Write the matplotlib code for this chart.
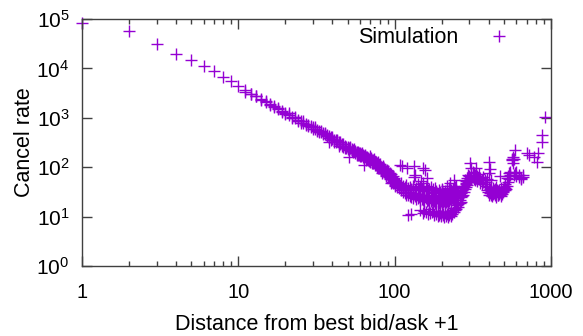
import matplotlib
matplotlib.use("Agg")
import matplotlib.pyplot as plt
from matplotlib.ticker import LogLocator, NullFormatter, LogFormatterSciNotation, FixedLocator, FixedFormatter

plt.rcParams['font.family'] = ['Liberation Sans', 'DejaVu Sans']
plt.rcParams['mathtext.default'] = 'regular'

# ---- data ----
# distances 1..100, main curve
near_dist = list(range(1, 101))
near_rate = [83000, 56000, 31000, 20000, 15000, 11000, 8700, 6800, 5600, 4400,
             3400, 3050, 2700, 2400, 2100, 1900, 1700, 1500, 1350, 1250,
             1150, 1060, 980, 910, 850, 800, 760, 720, 680, 640,
             600, 570, 540, 510, 490, 460, 440, 420, 400, 380,
             360, 350, 335, 320, 300, 290, 290, 270, 260, 255,
             245, 240, 230, 225, 215, 210, 205, 200, 195, 190,
             185, 180, 178, 170, 165, 162, 160, 155, 150, 148,
             145, 140, 138, 132, 128, 125, 120, 118, 112, 108,
             104, 100, 98, 96, 92, 88, 85, 82, 80, 78,
             76, 72, 70, 66, 64, 60, 58, 56, 54, 52]

# second set of points for distances 11..100
twin_dist = list(range(11, 101))
twin_rate = [3600, 3100, 2800, 2300, 2150, 1800, 1650, 1550, 1300, 1200,
             1250, 1000, 1050, 860, 800, 850, 700, 690, 640, 600,
             640, 540, 510, 550, 460, 500, 420, 390, 360, 400,
             330, 320, 360, 290, 320, 270, 260, 250, 240, 230,
             225, 260, 210, 205, 235, 190, 185, 180, 178, 170,
             168, 195, 158, 152, 180, 142, 150, 138, 132, 165,
             155, 122, 120, 145, 112, 110, 102, 128, 98, 95,
             115, 90, 86, 104, 80, 94, 75, 70, 88, 66,
             84, 62, 78, 57, 72, 50, 66, 47, 60, 44]

# scattered points above / below the main curve
out_dist = [38, 44, 51, 57, 64, 70, 78, 83, 88, 95, 108, 111, 120, 132, 132, 135, 147,
            152, 156, 160, 200, 215, 226, 240]
out_rate = [330, 270, 160, 175, 112, 125, 95, 78, 66, 48, 110, 105, 95, 108, 62, 70, 52,
            95, 88, 60, 35, 42, 47, 55]

# dense band, distances 101..248
band_dist = [101, 104, 107, 110, 113, 116, 119, 122, 125, 128, 131, 134, 137, 140, 143,
             146, 149, 152, 155, 158, 161, 164, 167, 170, 173, 176, 179, 182, 185, 188,
             191, 194, 197, 200, 203, 206, 209, 212, 215, 218, 221, 224, 227, 230, 233,
             236, 239, 242, 245, 248]
band_upper = [55, 50, 46, 48, 42, 40, 44, 38, 40, 36, 42, 35, 38, 45, 34,
              40, 36, 48, 33, 38, 42, 34, 37, 40, 32, 36, 30, 38, 33, 28,
              35, 31, 27, 36, 30, 26, 33, 29, 35, 28, 31, 38, 30, 34, 28,
              36, 32, 40, 35, 42]
band_mid = [48, 44, 41, 40, 37, 35, 34, 32, 31, 30, 29, 30, 28, 29, 27,
            28, 26, 27, 25, 26, 27, 24, 25, 24, 26, 23, 24, 23, 25, 22,
            24, 23, 22, 24, 22, 23, 22, 24, 23, 22, 25, 24, 26, 25, 27,
            28, 29, 30, 31, 33]
band_lower = [42, 40, 38, 34, 32, 30, 28, 27, 26, 25, 24, 26, 23, 24, 25,
              22, 23, 22, 21, 24, 21, 22, 20, 21, 22, 20, 21, 19, 20, 21,
              19, 20, 21, 19, 20, 21, 19, 20, 21, 20, 22, 21, 23, 22, 24,
              23, 25, 24, 26, 27]

# lower band
low_dist = [122, 128, 152, 158, 163, 168, 173, 178, 183, 188, 193, 198, 203, 208, 213, 218,
            223, 228, 233, 238, 243, 248, 254, 260, 265]
low_rate = [11, 11.5, 12, 12.5, 11.5, 12, 12.5, 11, 11.5, 10.5, 11, 10.5, 11, 10, 10.5, 10,
            11, 10.5, 11.5, 12.5, 13.5, 14, 16, 18.5, 20]
low2_dist = [145, 155, 165, 175, 185, 190, 195, 200, 205, 210, 215, 220, 225, 230, 240, 250]
low2_rate = [13.5, 13, 14, 13, 12.5, 13, 12, 12.5, 11.5, 12, 11.5, 12.5, 12, 13, 15, 17]

# far region, distances 250..1000
far_dist = [252, 252, 256, 256, 260, 260, 264, 264, 268, 268, 272, 272, 276, 276, 280, 280,
            284, 284, 288, 288, 292, 292, 296, 296, 300, 300, 303, 305, 310, 310, 315, 315,
            320, 320, 326, 326, 332, 332, 338, 338, 345, 345, 352, 352, 360, 360, 368, 368,
            376, 376, 384, 384, 392, 392, 400, 400, 400, 408, 408, 408, 416, 416, 424, 424,
            432, 432, 440, 440, 448, 448, 456, 456, 464, 464, 472, 472, 480, 480, 490, 490,
            500, 500, 510, 510, 520, 520, 530, 530, 540, 540, 550, 550, 560, 560, 570, 570,
            570, 580, 580, 590, 590, 600, 600, 620, 620, 640, 640, 660, 660, 700, 720, 780,
            810, 830, 870, 880, 920]
far_rate = [30, 25, 28, 18, 32, 22, 25, 30, 35, 26, 28, 38, 42, 32, 55, 36,
            48, 40, 46, 52, 60, 44, 50, 70, 65, 55, 120, 58, 95, 70, 62, 80,
            75, 58, 55, 68, 95, 60, 65, 52, 72, 58, 48, 60, 55, 46, 62, 50,
            45, 54, 50, 42, 58, 35, 130, 75, 40, 90, 30, 36, 55, 28, 32, 38,
            30, 35, 36, 27, 40, 30, 33, 28, 29, 34, 65, 31, 38, 30, 36, 33,
            40, 35, 45, 38, 60, 42, 65, 50, 58, 75, 80, 68, 150, 140, 160, 120,
            145, 70, 150, 220, 75, 65, 80, 70, 62, 60, 58, 62, 68, 190, 180, 160,
            130, 190, 330, 450, 1050]
# extra points in the cluster around 390..520
clus_dist = [395, 404, 412, 420, 428, 436, 444, 452, 460, 468, 476, 484, 495, 505, 515]
clus_rate = [32, 27, 33, 26, 29, 32, 25, 34, 27, 30, 26, 29, 31, 34, 36]

x_ticks = [1, 10, 100, 1000]
x_tick_labels = ["1", "10", "100", "1000"]

dist = (near_dist + twin_dist + out_dist + band_dist + band_dist + band_dist
        + low_dist + low2_dist + far_dist + clus_dist)
rate = (near_rate + twin_rate + out_rate + band_upper + band_mid + band_lower
        + low_rate + low2_rate + far_rate + clus_rate)

# ---- figure ----
W, H = 583, 336
fig = plt.figure(figsize=(W / 100, H / 100), dpi=100)
L, R, T, B = 82, 551, 19, 266
ax = fig.add_axes([L / W, 1 - B / H, (R - L) / W, (B - T) / H])

purple = '#9400D3'
ax.plot(dist, rate, linestyle='none', marker='+', markersize=9, markeredgewidth=1.0,
        color=purple, clip_on=False, label='Simulation')

ax.set_xscale('log')
ax.set_yscale('log')
ax.set_xlim(1, 1000)
ax.set_ylim(1, 1e5)

fs = 15.5
tfs = 14.5
ax.xaxis.set_major_locator(FixedLocator(x_ticks))
ax.xaxis.set_major_formatter(FixedFormatter(x_tick_labels))
ax.xaxis.set_minor_locator(LogLocator(base=10, subs=[2, 3, 4, 5, 6, 7, 8, 9]))
ax.xaxis.set_minor_formatter(NullFormatter())
ax.yaxis.set_major_locator(LogLocator(base=10, numticks=10))
ax.yaxis.set_major_formatter(LogFormatterSciNotation())
ax.yaxis.set_minor_locator(LogLocator(base=10, subs=[2, 5, 8]))
ax.yaxis.set_minor_formatter(NullFormatter())

edge = '#404040'
for s in ax.spines.values():
    s.set_color(edge)
    s.set_linewidth(1.0)
ax.tick_params(which='both', direction='in', top=True, right=True, color=edge, width=1.0)
ax.tick_params(which='major', length=7.2)
ax.tick_params(which='minor', length=3.6)
ax.tick_params(axis='x', which='major', pad=12, labelsize=tfs)
ax.tick_params(axis='y', which='major', pad=9, labelsize=tfs + 0.5)

ax.set_xlabel('Distance from best bid/ask +1', fontsize=fs, labelpad=9)
ax.set_ylabel('Cancel rate', fontsize=fs, labelpad=1)

leg = ax.legend(loc='upper right', bbox_to_anchor=(0.935, 0.966), frameon=False,
                markerfirst=False, numpoints=1, fontsize=fs, handlelength=2.0,
                handletextpad=0.9, borderaxespad=0, borderpad=0)

fig.savefig('out.png', dpi=100)
